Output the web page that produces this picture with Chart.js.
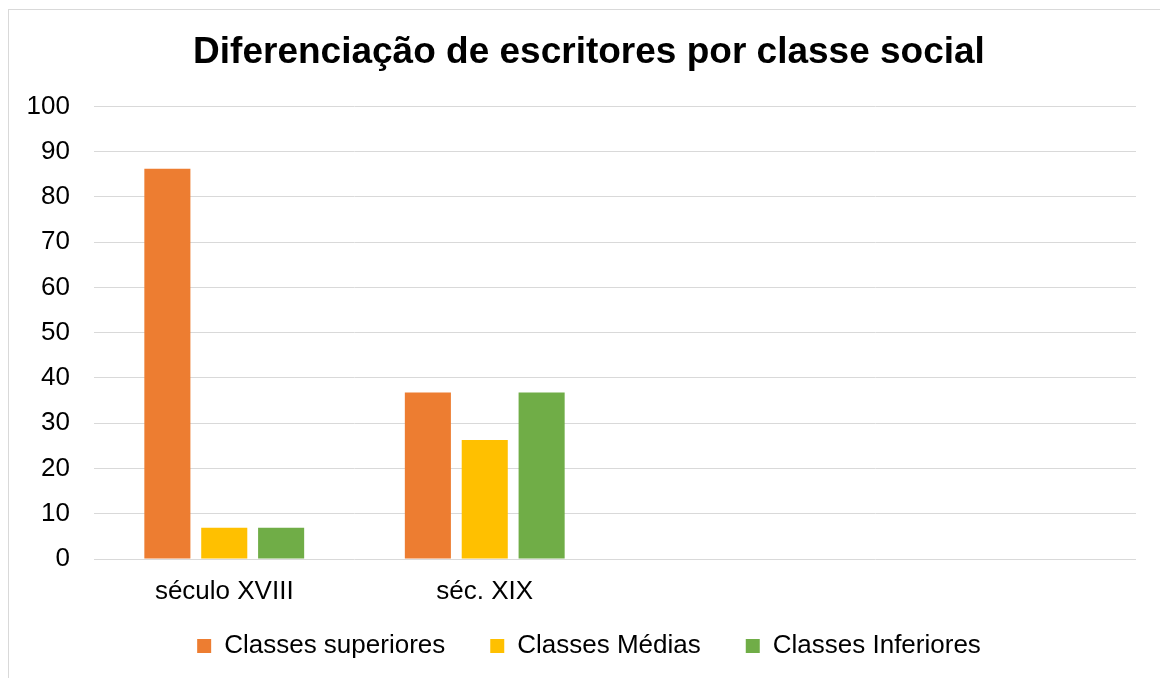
<!DOCTYPE html>
<html>
<head>
<meta charset="utf-8">
<script src="https://cdn.jsdelivr.net/npm/chart.js@4"></script>
<style>
  html, body { margin: 0; padding: 0; background: #fff; overflow: hidden; }
  #frame {
    position: absolute; left: 8px; top: 9px;
    width: 1160px; height: 678px;
    border-left: 1px solid #d9d9d9; border-top: 1px solid #d9d9d9;
  }
  #chart { position: absolute; left: 0; top: 0; }
</style>
</head>
<body>
<div id="frame"><canvas id="chart" width="1160" height="678"></canvas></div>
<script>
// Data
const categories = ["século XVIII", "séc. XIX", "", ""];
const seriesNames = ["Classes superiores", "Classes Médias", "Classes Inferiores"];
const superiores = [86.2, 36.8, null, null];
const medias = [6.9, 26.3, null, null];
const inferiores = [6.9, 36.8, null, null];
const yTicks = [0, 10, 20, 30, 40, 50, 60, 70, 80, 90, 100];

const colors = ["#ED7D31", "#FFC000", "#70AD47"];
const fontFamily = "'Liberation Sans', Arial, sans-serif";

Chart.defaults.font.family = fontFamily;
Chart.defaults.color = "#000";

function makeSet(label, data, color) {
  return {
    label: label,
    data: data,
    backgroundColor: color,
    borderWidth: 0,
    categoryPercentage: 0.655,
    barPercentage: 0.81
  };
}

new Chart(document.getElementById("chart").getContext("2d"), {
  type: "bar",
  data: {
    labels: categories,
    datasets: [
      makeSet(seriesNames[0], superiores, colors[0]),
      makeSet(seriesNames[1], medias, colors[1]),
      makeSet(seriesNames[2], inferiores, colors[2])
    ]
  },
  options: {
    responsive: false,
    animation: false,
    layout: { padding: { left: 0, right: 0, top: 0, bottom: 19 } },
    plugins: {
      title: {
        display: true,
        text: "Diferenciação de escritores por classe social",
        font: { size: 37, weight: "bold" },
        color: "#000",
        padding: { top: 21, bottom: 31 }
      },
      legend: {
        position: "bottom",
        labels: {
          boxWidth: 14,
          boxHeight: 14,
          padding: 45,
          font: { size: 26 },
          color: "#000"
        }
      },
      tooltip: { enabled: false }
    },
    scales: {
      x: {
        grid: { display: false },
        border: { display: false },
        // mirror keeps the labels from being clipped to the short axis box,
        // the negative padding pushes them back below the axis
        ticks: { font: { size: 26 }, padding: -48, mirror: true, color: "#000" },
        afterFit: function(scale) { scale.height = 29; }
      },
      y: {
        min: 0,
        max: 100,
        afterBuildTicks: function(scale) {
          scale.ticks = yTicks.map(v => ({ value: v }));
        },
        grid: { color: "#d9d9d9", lineWidth: 1, drawTicks: false },
        border: { display: false },
        ticks: { font: { size: 26 }, padding: 24, color: "#000" },
        afterFit: function(scale) { scale.width = 85; }
      },
      y2: {
        position: "right",
        display: true,
        grid: { display: false },
        border: { display: false },
        ticks: { display: false },
        afterFit: function(scale) { scale.width = 33; }
      }
    }
  }
});
</script>
</body>
</html>
